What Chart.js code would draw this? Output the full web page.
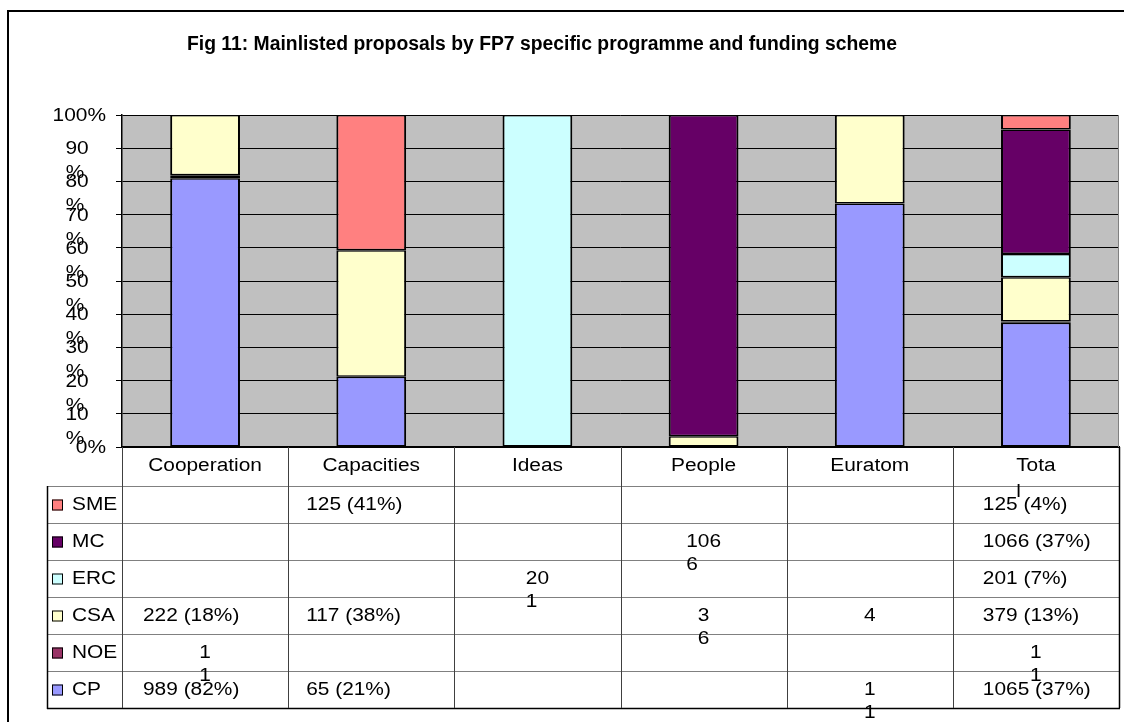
<!DOCTYPE html>
<html>
<head>
<meta charset="utf-8">
<script src="https://cdn.jsdelivr.net/npm/chart.js@4/dist/chart.umd.min.js"></script>
<style>
  html, body { margin: 0; padding: 0; background: #fff; }
  canvas { display: block; }
</style>
</head>
<body>
<canvas id="c" width="1124" height="722" style="width:1124px;height:722px"></canvas>
<script>
// ---------- data ----------
const titleText = 'Fig 11: Mainlisted proposals by FP7 specific programme and funding scheme';
const categories = ['Cooperation', 'Capacities', 'Ideas', 'People', 'Euratom', 'Total'];
const headerLabels = ['Cooperation', 'Capacities', 'Ideas', 'People', 'Euratom', 'Tota\nl'];
const yTickLabels = ['0%', '10\n%', '20\n%', '30\n%', '40\n%', '50\n%', '60\n%', '70\n%', '80\n%', '90\n%', '100%'];

const seriesNames = ['SME', 'MC', 'ERC', 'CSA', 'NOE', 'CP'];   // table order (top to bottom)
const smeCounts = [0, 125, 0, 0, 0, 125];
const mcCounts  = [0, 0, 0, 1066, 0, 1066];
const ercCounts = [0, 0, 201, 0, 0, 201];
const csaCounts = [222, 117, 0, 36, 4, 379];
const noeCounts = [11, 0, 0, 0, 0, 11];
const cpCounts  = [989, 65, 0, 0, 11, 1065];

const smeCells = ['', '125 (41%)', '', '', '', '125 (4%)'];
const mcCells  = ['', '', '', '106\n6', '', '1066 (37%)'];
const ercCells = ['', '', '20\n1', '', '', '201 (7%)'];
const csaCells = ['222 (18%)', '117 (38%)', '', '3\n6', '4', '379 (13%)'];
const noeCells = ['1\n1', '', '', '', '', '1\n1'];
const cpCells  = ['989 (82%)', '65 (21%)', '', '', '1\n1', '1065 (37%)'];

// ---------- styling ----------
const colors = { SME: '#FF8080', MC: '#660066', ERC: '#CCFFFF', CSA: '#FFFFCC', NOE: '#993366', CP: '#9999FF' };
const FONT = '"Liberation Sans", Arial, sans-serif';
const SX = 1.16;

const countsBySeries = { SME: smeCounts, MC: mcCounts, ERC: ercCounts, CSA: csaCounts, NOE: noeCounts, CP: cpCounts };
const cellsBySeries = { SME: smeCells, MC: mcCells, ERC: ercCells, CSA: csaCells, NOE: noeCells, CP: cpCells };

const totals = categories.map((_, i) => seriesNames.reduce((s, n) => s + countsBySeries[n][i], 0));
const pct = arr => arr.map((v, i) => v ? v / totals[i] * 100 : null);

const stackOrder = ['CP', 'NOE', 'CSA', 'ERC', 'MC', 'SME'];
const datasets = stackOrder.map(n => ({
  label: n,
  data: pct(countsBySeries[n]),
  backgroundColor: colors[n],
  borderColor: '#000',
  borderWidth: { top: 1.5, bottom: 1.5, left: 2, right: 2 },
  borderSkipped: false,
  barPercentage: 0.42,
  categoryPercentage: 1.0
}));

function txt(ctx, s, x, y, align, font, sx) {
  ctx.save();
  ctx.font = font;
  ctx.fillStyle = '#000';
  ctx.textBaseline = 'middle';
  ctx.textAlign = align;
  ctx.translate(x, y);
  ctx.scale(sx, 1);
  ctx.fillText(s, 0, 0);
  ctx.restore();
}
function tw(ctx, s, font, sx) {
  ctx.save(); ctx.font = font; const w = ctx.measureText(s).width * sx; ctx.restore(); return w;
}
function line(ctx, x1, y1, x2, y2, color, w) {
  ctx.save(); ctx.strokeStyle = color; ctx.lineWidth = w;
  ctx.beginPath(); ctx.moveTo(x1, y1); ctx.lineTo(x2, y2); ctx.stroke(); ctx.restore();
}

const decor = {
  id: 'decor',
  beforeDraw(chart) {
    const { ctx, chartArea: a } = chart;
    ctx.save();
    ctx.fillStyle = '#fff';
    ctx.fillRect(0, 0, chart.width, chart.height);
    ctx.strokeStyle = '#000';
    ctx.lineWidth = 2;
    ctx.strokeRect(8, 11, 1300, 900);
    ctx.fillStyle = '#C0C0C0';
    ctx.fillRect(a.left, a.top, a.right - a.left, a.bottom - a.top);
    ctx.restore();
  },
  afterDraw(chart) {
    const { ctx, chartArea: a } = chart;
    const xs = chart.scales.x, ys = chart.scales.y;
    // plot right edge
    line(ctx, a.right - 0.5, a.top, a.right - 0.5, a.bottom, '#808080', 1);

    // title
    const tf = 'bold 20px ' + FONT;
    const tsx = 710 / tw(ctx, titleText, tf, 1);
    txt(ctx, titleText, 542, 44, 'center', tf, tsx);

    // y tick labels
    const f = '18px ' + FONT;
    ys.ticks.forEach((t, i) => {
      const y = ys.getPixelForValue(t.value);
      const parts = yTickLabels[i].split('\n');
      if (parts.length === 1) {
        txt(ctx, parts[0], 106, y + 1, 'right', f, SX);
      } else {
        txt(ctx, parts[0], 77, y + 1, 'center', f, SX);
        txt(ctx, parts[1], 75, y + 25, 'center', f, SX);
      }
    });

    // data table
    const n = categories.length;
    const cw = (a.right - a.left) / n;
    const top = a.bottom;
    const headBottom = top + 39;
    const rowH = 37;
    const bottom = headBottom + rowH * seriesNames.length;
    const legLeft = 47;
    const pads = [21, 18, 0, 0, 0, 30];

    // horizontal lines
    line(ctx, legLeft, headBottom + 0.5, a.right, headBottom + 0.5, '#808080', 1);
    for (let r = 1; r < seriesNames.length; r++) {
      const y = headBottom + r * rowH + 0.5;
      line(ctx, legLeft, y, a.right, y, '#808080', 1);
    }
    line(ctx, legLeft, bottom + 0.5, a.right + 1, bottom + 0.5, '#000', 1.5);
    // vertical lines
    line(ctx, legLeft + 0.5, headBottom, legLeft + 0.5, bottom + 1, '#000', 1.5);
    for (let c = 0; c <= n; c++) {
      const x = Math.round(a.left + c * cw) + 0.5;
      line(ctx, x, top, x, bottom, c === n ? '#000' : '#404040', c === n ? 1.5 : 1);
    }

    // header labels
    categories.forEach((cat, c) => {
      const cx = xs.getPixelForValue(c);
      const parts = headerLabels[c].split('\n');
      const w0 = tw(ctx, parts[0], f, SX);
      parts.forEach((p, k) => {
        if (parts.length === 1) txt(ctx, p, cx, top + 19, 'center', f, SX);
        else txt(ctx, p, cx - w0 / 2, top + 19 + k * 26, 'left', f, SX);
      });
    });

    // rows
    seriesNames.forEach((s, r) => {
      const rc = headBottom + r * rowH + rowH / 2 + 1;
      // legend key
      ctx.save();
      ctx.fillStyle = colors[s];
      ctx.fillRect(52, rc - 6, 11, 11);
      ctx.strokeStyle = '#000'; ctx.lineWidth = 1;
      ctx.strokeRect(52.5, rc - 5.5, 10, 10);
      ctx.restore();
      txt(ctx, s, 72, rc, 'left', f, SX);
      cellsBySeries[s].forEach((cell, c) => {
        if (!cell) return;
        const cx = xs.getPixelForValue(c);
        const colLeft = a.left + c * cw;
        const parts = cell.split('\n');
        if (parts.length === 1 && cell.indexOf('(') >= 0) {
          txt(ctx, cell, colLeft + pads[c], rc, 'left', f, SX);
        } else {
          const w0 = tw(ctx, parts[0], f, SX);
          parts.forEach((p, k) => txt(ctx, p, cx - w0 / 2, rc + k * 23, 'left', f, SX));
        }
      });
    });
  }
};

new Chart(document.getElementById('c'), {
  type: 'bar',
  data: { labels: categories, datasets },
  options: {
    responsive: false,
    animation: false,
    devicePixelRatio: 1,
    layout: { padding: { left: 116, top: 115, right: 5, bottom: 275 } },
    plugins: { legend: { display: false }, title: { display: false }, tooltip: { enabled: false } },
    scales: {
      x: {
        stacked: true,
        ticks: { display: false },
        grid: { display: false, drawTicks: false },
        border: { display: true, color: '#000', width: 1.5 }
      },
      y: {
        stacked: true,
        min: 0, max: 100,
        ticks: { display: false, stepSize: 10 },
        grid: { color: '#000', lineWidth: 1, drawTicks: true, tickLength: 6, tickColor: '#000' },
        border: { display: true, color: '#000', width: 1.5 }
      }
    }
  },
  plugins: [decor]
});
</script>
</body>
</html>
